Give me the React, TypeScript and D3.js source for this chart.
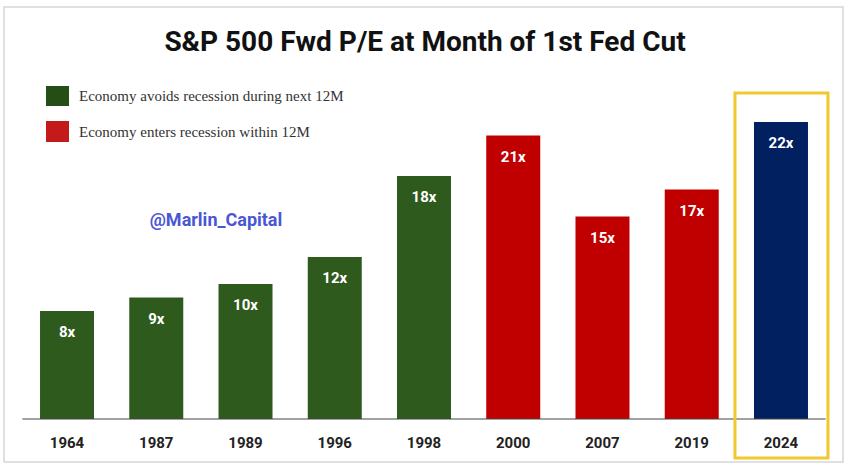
import React from "react";
import * as d3 from "d3";

const years = ["1964", "1987", "1989", "1996", "1998", "2000", "2007", "2019", "2024"];
const peValues = [8, 9, 10, 12, 18, 21, 15, 17, 22];
const groups = ["avoid", "avoid", "avoid", "avoid", "avoid", "recession", "recession", "recession", "current"];
const legendLabels = [
  "Economy avoids recession during next 12M",
  "Economy enters recession within 12M",
];
const title = "S&P 500 Fwd P/E at Month of 1st Fed Cut";
const watermark = "@Marlin_Capital";

const W = 848;
const H = 470;
const baseY = 419;

const colors: Record<string, string> = {
  avoid: "#2f5a1e",
  recession: "#c00000",
  current: "#002060",
};

export default function App() {
  const x = d3
    .scaleBand<string>()
    .domain(years)
    .range([22.4, 825.6])
    .paddingInner(0.395)
    .paddingOuter(0.1975);
  const y = d3.scaleLinear().domain([0, 22]).range([baseY, 122]);

  const hl = x("2024")!;

  return (
    <svg
      width={W}
      height={H}
      style={{ position: "absolute", left: 0, top: 0, background: "#fff" }}
    >
      <rect x={4} y={7} width={839} height={455} fill="#fff" stroke="#d6d6d6" strokeWidth={1.5} />
      <text
        x={425}
        y={51}
        textAnchor="middle"
        fontFamily="Roboto, 'Noto Sans', sans-serif"
        fontWeight={700}
        fontSize={28}
        fill="#111"
      >
        {title}
      </text>

      {/* legend */}
      <rect x={46} y={86} width={23} height={20} fill="#254d16" />
      <text x={79} y={101} fontFamily="'Liberation Serif', 'DejaVu Serif', serif" fontSize={15} fill="#333">
        {legendLabels[0]}
      </text>
      <rect x={46} y={121} width={23} height={21} fill="#c41a1a" />
      <text x={79} y={137} fontFamily="'Liberation Serif', 'DejaVu Serif', serif" fontSize={15} fill="#333">
        {legendLabels[1]}
      </text>

      <text
        x={216}
        y={226}
        textAnchor="middle"
        fontFamily="Roboto, 'Noto Sans', sans-serif"
        fontWeight={700}
        fontSize={18}
        fill="#4a57d4"
      >
        {watermark}
      </text>

      {years.map((yr, i) => {
        const bx = x(yr)!;
        const top = y(peValues[i]);
        return (
          <g key={yr}>
            <rect x={bx} y={top} width={x.bandwidth()} height={baseY - top} fill={colors[groups[i]]} />
            <text
              x={bx + x.bandwidth() / 2}
              y={top + 26}
              textAnchor="middle"
              fontFamily="Roboto, 'Noto Sans', sans-serif"
              fontWeight={700}
              fontSize={15}
              fill="#fff"
            >
              {peValues[i] + "x"}
            </text>
            <text
              x={bx + x.bandwidth() / 2}
              y={448}
              textAnchor="middle"
              fontFamily="Roboto, 'Noto Sans', sans-serif"
              fontWeight={700}
              fontSize={15}
              fill="#222"
            >
              {yr}
            </text>
          </g>
        );
      })}

      <line x1={22.4} x2={825.6} y1={baseY} y2={baseY} stroke="#444" strokeWidth={1.2} />

      <rect
        x={hl - 19}
        y={93}
        width={93}
        height={365}
        fill="none"
        stroke="#f0c830"
        strokeWidth={3}
      />
    </svg>
  );
}
